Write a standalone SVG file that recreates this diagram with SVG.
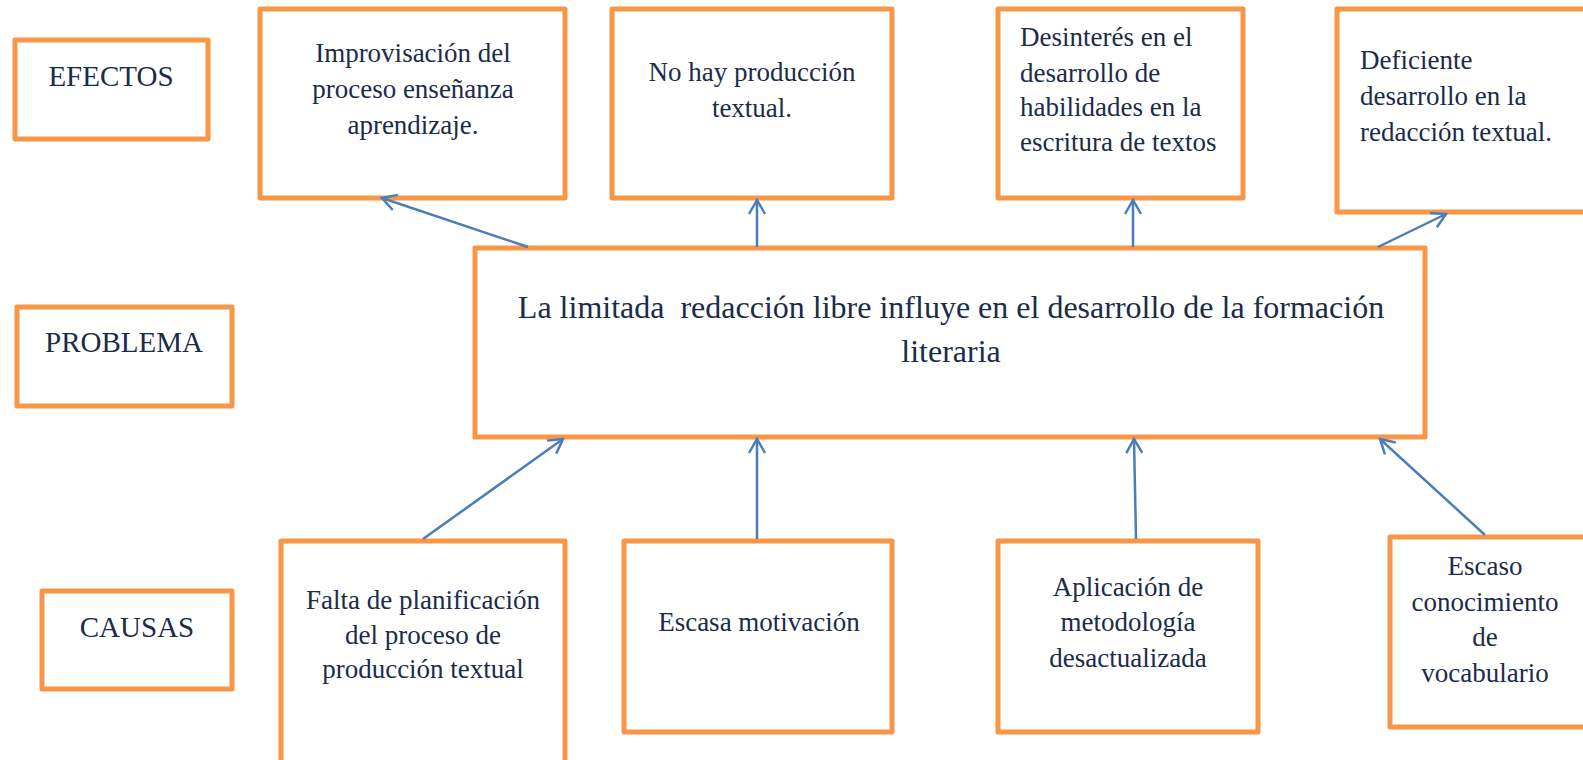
<svg xmlns="http://www.w3.org/2000/svg" width="1583" height="760" viewBox="0 0 1583 760">
<style>
.box{fill:#fff;stroke:#F79646;stroke-width:5;stroke-linejoin:round}
text{font-family:"Liberation Serif","Times New Roman",serif;fill:#1B2B4A}
.lbl{font-size:29px;text-anchor:middle}
.t{font-size:27px;text-anchor:middle}
.tl{font-size:27px}
.main{font-size:32px;text-anchor:middle;white-space:pre}
.con line{stroke:#4A7EBB;stroke-width:2.5;marker-end:url(#ah)}
</style>
<defs>
<marker id="ah" viewBox="0 0 20 20" refX="18" refY="10" markerWidth="20" markerHeight="20" markerUnits="userSpaceOnUse" orient="auto">
<path d="M4,2 L18,10 L4,18" fill="none" stroke="#4A7EBB" stroke-width="2.5"/>
</marker>
</defs>
<rect width="1583" height="760" fill="#fff"/>
<g id="efectos"><rect class="box" x="15" y="40" width="193" height="99"/><text class="lbl" x="111" y="86">EFECTOS</text></g>
<g id="problema"><rect class="box" x="17" y="307" width="215" height="99"/><text class="lbl" x="124" y="352">PROBLEMA</text></g>
<g id="causas"><rect class="box" x="42" y="591" width="190" height="98"/><text class="lbl" x="137" y="637">CAUSAS</text></g>

<g id="e1"><rect class="box" x="260" y="9" width="305" height="189"/>
<text class="t"><tspan x="413" y="62">Improvisación del</tspan><tspan x="413" y="98">proceso enseñanza</tspan><tspan x="413" y="134">aprendizaje.</tspan></text></g>
<g id="e2"><rect class="box" x="612" y="9" width="280" height="189"/>
<text class="t"><tspan x="752" y="81">No hay producción</tspan><tspan x="752" y="117">textual.</tspan></text></g>
<g id="e3"><rect class="box" x="998" y="9" width="245" height="189"/>
<text class="tl"><tspan x="1020" y="46">Desinterés en el</tspan><tspan x="1020" y="82">desarrollo de</tspan><tspan x="1020" y="116">habilidades en la</tspan><tspan x="1020" y="151">escritura de textos</tspan></text></g>
<g id="e4"><rect class="box" x="1337" y="9" width="260" height="203"/>
<text class="tl"><tspan x="1360" y="69">Deficiente</tspan><tspan x="1360" y="105">desarrollo en la</tspan><tspan x="1360" y="141">redacción textual.</tspan></text></g>

<g id="problem"><rect class="box" x="475" y="248" width="950" height="189"/>
<text class="main"><tspan x="951" y="318">La limitada  redacción libre influye en el desarrollo de la formación</tspan><tspan x="951" y="362">literaria</tspan></text></g>

<g id="c1"><rect class="box" x="281" y="541" width="284" height="230"/>
<text class="t"><tspan x="423" y="609">Falta de planificación</tspan><tspan x="423" y="644">del proceso de</tspan><tspan x="423" y="678">producción textual</tspan></text></g>
<g id="c2"><rect class="box" x="624" y="541" width="268" height="191"/>
<text class="t"><tspan x="759" y="631">Escasa motivación</tspan></text></g>
<g id="c3"><rect class="box" x="998" y="541" width="260" height="191"/>
<text class="t"><tspan x="1128" y="596">Aplicación de</tspan><tspan x="1128" y="631">metodología</tspan><tspan x="1128" y="667">desactualizada</tspan></text></g>
<g id="c4"><rect class="box" x="1390" y="537" width="210" height="190"/>
<text class="t"><tspan x="1485" y="575">Escaso</tspan><tspan x="1485" y="611">conocimiento</tspan><tspan x="1485" y="646">de</tspan><tspan x="1485" y="682">vocabulario</tspan></text></g>

<g id="connectors" class="con">
<line x1="528" y1="247" x2="382" y2="198"/>
<line x1="757" y1="247" x2="757" y2="200"/>
<line x1="1133" y1="247" x2="1133" y2="200"/>
<line x1="1378" y1="247" x2="1446" y2="214"/>
<line x1="423" y1="539" x2="563" y2="439"/>
<line x1="757" y1="539" x2="757" y2="439"/>
<line x1="1136" y1="539" x2="1134" y2="439"/>
<line x1="1485" y1="535" x2="1380" y2="439"/>
</g>
</svg>
